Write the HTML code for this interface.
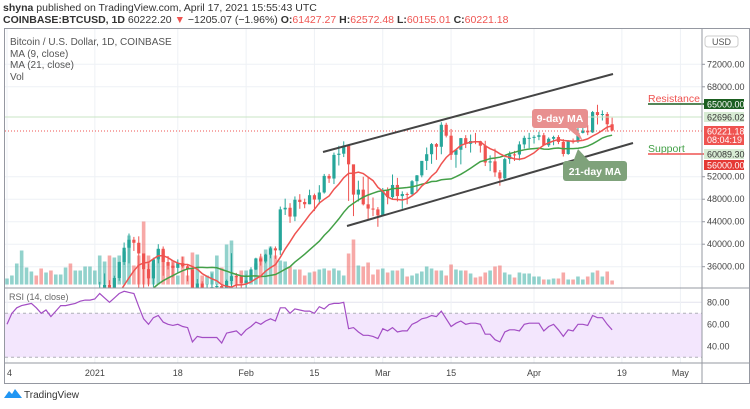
<!DOCTYPE html>
<html><head><meta charset="utf-8"><style>
body{margin:0;background:#fff;width:750px;height:409px;overflow:hidden;font-family:"Liberation Sans",sans-serif}
svg{display:block}
text{font-family:"Liberation Sans",sans-serif}
</style></head><body>
<svg id="chart" width="750" height="409" viewBox="0 0 750 409">
<defs><clipPath id="mainClip"><rect x="5" y="29" width="697" height="259"/></clipPath>
<clipPath id="rsiClip"><rect x="5" y="288" width="697" height="75"/></clipPath></defs>
<text x="3" y="11" font-size="10.5" fill="#333"><tspan font-weight="bold">shyna</tspan> published on TradingView.com, April 17, 2021 15:55:43 UTC</text>
<text x="3" y="23" font-size="10.5" fill="#333"><tspan font-weight="bold">COINBASE:BTCUSD, 1D</tspan> 60222.20 <tspan fill="#ef5350">▼</tspan> −1205.07 (−1.96%) <tspan font-weight="bold">O:</tspan><tspan fill="#ef5350">61427.27</tspan> <tspan font-weight="bold">H:</tspan><tspan fill="#ef5350">62572.48</tspan> <tspan font-weight="bold">L:</tspan><tspan fill="#ef5350">60155.01</tspan> <tspan font-weight="bold">C:</tspan><tspan fill="#ef5350">60221.18</tspan></text>
<rect x="4.5" y="28.5" width="745" height="355" fill="none" stroke="#9598a1" stroke-width="1"/>
<g id="grid"></g>
<rect x="5" y="313.3" width="697" height="44" fill="#f3e6fd"/>
<line x1="5" y1="313.3" x2="702" y2="313.3" stroke="#b0b0b8" stroke-dasharray="3,3"/>
<line x1="5" y1="357.3" x2="702" y2="357.3" stroke="#b0b0b8" stroke-dasharray="3,3"/>
<g id="vol" clip-path="url(#mainClip)"></g>
<g id="candles" clip-path="url(#mainClip)"></g>
<g id="mas" clip-path="url(#mainClip)"></g>
<g id="rsi" clip-path="url(#rsiClip)"></g>
<line x1="5" y1="117" x2="702" y2="117" stroke="#c9e4c4" stroke-width="1"/>
<line x1="5" y1="131" x2="702" y2="131" stroke="#ef5350" stroke-dasharray="1,2"/>
<line x1="323" y1="152" x2="613" y2="74" stroke="#444" stroke-width="2"/>
<line x1="347" y1="226" x2="633" y2="143" stroke="#444" stroke-width="2"/>
<g>
<path d="M566 127 L583 141 L576 127 Z" fill="#e8908f"/>
<rect x="532" y="109" width="56" height="19" rx="3" fill="#e8908f"/>
<text x="560" y="122" font-size="10.5" font-weight="bold" fill="#fff" text-anchor="middle">9-day MA</text></g>
<g>
<path d="M573 162 L578 149 L590 162 Z" fill="#7fa27b"/>
<rect x="563" y="161" width="64" height="20" rx="3" fill="#7fa27b"/>
<text x="595" y="175" font-size="10.5" font-weight="bold" fill="#fff" text-anchor="middle">21-day MA</text></g>
<text x="648" y="102" font-size="10.5" fill="#ef5350">Resistance</text>
<line x1="648" y1="104" x2="706" y2="104" stroke="#1b5e20" stroke-width="1.5"/>
<text x="648" y="152" font-size="10.5" fill="#43a047">Support</text>
<line x1="648" y1="154" x2="706" y2="154" stroke="#ef5350" stroke-width="1.5"/>
<line x1="702" y1="28" x2="702" y2="383" stroke="#9598a1"/>
<line x1="5" y1="288" x2="749" y2="288" stroke="#9598a1"/>
<line x1="5" y1="363" x2="749" y2="363" stroke="#9598a1"/>
<g id="axes"></g>
<rect x="705" y="36" width="33" height="11" rx="3" fill="#fff" stroke="#ccc"/>
<text x="721.5" y="45" font-size="9" fill="#555" text-anchor="middle">USD</text>
<g font-size="9">
<rect x="704" y="99" width="40" height="10" fill="#1b5e20"/><text x="707" y="107.5" fill="#fff">65000.00</text>
<rect x="704" y="112" width="40" height="10" fill="#d8ecd4"/><text x="707" y="120.5" fill="#333">62696.02</text>
<rect x="704" y="126" width="40" height="19" fill="#ef5350"/><text x="707" y="134.5" fill="#fff">60221.18</text><text x="707" y="143" fill="#fff">08:04:19</text>
<rect x="704" y="149" width="40" height="10" fill="#d8ecd4"/><text x="707" y="157.5" fill="#333">60089.30</text>
<rect x="704" y="160" width="40" height="10" fill="#e53935"/><text x="707" y="168.5" fill="#fff">56000.00</text></g>
<g font-size="10" fill="#555">
<text x="10" y="45">Bitcoin / U.S. Dollar, 1D, COINBASE</text>
<text x="10" y="57">MA (9, close)</text><text x="10" y="68">MA (21, close)</text><text x="10" y="80">Vol</text></g>
<text x="9" y="300" font-size="9" fill="#666">RSI (14, close)</text>
<g>
<path d="M4 398 L9 391 L12 394 L15 389 L22 398 Z" fill="#2196f3"/>
<text x="24" y="398" font-size="10" fill="#333">TradingView</text></g>
</svg>
<script>
const closes=[19270,19440,21310,22800,23130,23860,23480,22730,23820,23240,23720,24660,26440,26250,27040,27360,28840,28990,
29374,32127,32782,31971,33992,36824,39371,40797,40254,38356,35566,33922,37316,39187,36825,36178,35792,36630,36069,35548,30825,33005,32067,32289,32366,32569,30432,33466,34316,34269,33114,
33537,35510,37472,36926,38144,39266,38903,46196,46481,44918,47909,47504,47105,48717,47945,49199,52149,51679,55888,56099,57539,54207,48824,49705,47093,46339,46188,45137,
49631,48378,50538,48561,48927,48912,51206,52246,54824,56008,57805,57332,61243,59302,55907,56804,58870,57858,58346,58313,57523,54529,54738,52774,51704,55137,55974,55947,57750,58917,58918,
59095,59384,57603,58758,59057,58192,56048,58323,58245,59793,60204,59893,63503,62977,63159,61334,60222];
const firstOpen=19100;
const highs=[19400,19550,21550,23700,23250,24300,24200,24100,23990,24100,23800,24800,26800,28400,27400,27400,28990,29300,
29600,33300,34800,33600,34400,36900,40300,41900,41300,41400,38300,36600,37600,40000,39600,37900,36800,37300,37800,36400,35500,33800,33400,32900,34800,32900,32800,33700,38400,34900,34300,
34600,35900,37600,38300,38300,39600,39600,46700,48100,47300,48500,48900,48100,49700,49000,50500,52500,52500,56300,57500,58300,57500,54100,51300,52000,52000,48300,46600,
50000,50100,52400,51800,49400,49200,51400,52300,54800,57200,58000,58000,61700,61600,60500,56900,58900,59400,59500,59800,58400,58400,55800,57000,53200,55400,56500,56600,58300,59300,59800,
59400,60000,59800,59000,59300,59400,58700,58500,58800,61200,61700,61200,63700,64800,63800,63500,62500];
const lows=[19000,19050,19250,21200,22350,22750,22900,21800,22400,22700,22600,23450,24700,25900,25900,26000,27300,27900,
28800,29000,32000,28100,30300,33500,36300,36600,38800,32100,30400,32500,32400,36600,34400,35500,34100,34800,35800,33400,30100,28800,31400,30900,32300,30800,29400,30000,32000,32100,32200,
32300,33500,35400,36200,36600,37500,37400,38100,45200,43800,44100,46300,46400,47100,45900,47100,49000,50900,50700,54000,55500,47700,45000,47600,46900,44200,45000,43100,
45100,47100,48100,47600,46300,47100,48500,49300,51900,53200,54300,55000,56000,59000,55000,53600,54200,57100,56300,57800,56300,53900,53000,52000,50400,51400,54300,54800,54900,57000,57100,
57900,58500,57600,57300,57600,57800,55600,55900,57900,58000,59700,59400,59800,61300,62000,60000,60100];
const volumes=[6,9,21,34,17,13,9,16,12,14,10,10,17,21,14,14,18,18,14,29,23,29,27,29,33,49,19,29,63,29,21,35,34,19,24,9,28,9,32,30,9,9,13,29,17,40,
44,9,14,14,8,21,28,35,38,29,24,23,18,15,15,9,12,13,15,16,14,16,14,9,31,45,19,18,22,10,15,16,12,14,14,16,8,9,11,13,18,16,14,14,9,20,15,14,14,11,7,8,12,14,18,19,12,10,7,12,11,11,8,8,5,5,6,6,12,5,5,8,5,8,12,14,8,13,4];
const rsiValues=[60,70,75,77,78,79,75,70,73,67,72,77,77,78,79,81,82,82,83,88,84,80,84,88,90,89,88,76,65,60,66,68,62,60,59,60,58,57,44,49,48,48,48,48,43,52,53,54,50,55,58,62,60,63,65,63,75,75,70,74,73,72,72,70,76,74,78,79,79,80,56,57,53,50,50,49,47,56,54,57,53,54,54,60,62,65,66,68,67,72,65,58,61,63,60,61,61,60,51,51,46,44,53,55,55,54,60,61,61,61,54,58,60,55,49,55,54,60,60,59,68,66,66,60,55];
const priceTicks=[72000,68000,52000,48000,44000,40000,36000];
const rsiTicks=[80,60,40];
const dateLabels=["4","2021","18","Feb","15","Mar","15","Apr","19","May"];
const dateDayIdx=[0,18,35,49,63,77,91,108,126,138];

const NS="http://www.w3.org/2000/svg";
const xOf=i=>7+i*4.88;
const yP=p=>64.3+(72000-p)*0.005622;
const yR=r=>302.3+(80-r)*1.1;
const volBase=284.5;
function mk(tag,attrs,parent){const e=document.createElementNS(NS,tag);for(const k in attrs)e.setAttribute(k,attrs[k]);parent.appendChild(e);return e;}
const grid=document.getElementById('grid'),axes=document.getElementById('axes');
priceTicks.forEach(p=>{
  const g=mk('line',{x1:5,x2:702,y1:yP(p),y2:yP(p),stroke:'#eef1f5'},grid);
  
  
  const t=mk('text',{x:707,y:yP(p)+3,'font-size':9,fill:'#444'},axes);
  
  
  t.textContent=p.toFixed(2);
  mk('line',{x1:702,x2:705,y1:yP(p),y2:yP(p),stroke:'#9598a1'},axes);
});
rsiTicks.forEach(r=>{
  const g=mk('line',{x1:5,x2:702,y1:yR(r),y2:yR(r),stroke:'#e4e4ee'},grid);
  
  
  const t=mk('text',{x:707,y:yR(r)+3,'font-size':9,fill:'#444'},axes);
  
  
  t.textContent=r.toFixed(2);
});
dateLabels.forEach((d,k)=>{
  const x=xOf(dateDayIdx[k]);
  const g=mk('line',{x1:x,x2:x,y1:29,y2:363,stroke:'#eef1f5'},grid);
  
  
  const t=mk('text',{x:x,y:376,'font-size':9,fill:'#444','text-anchor':k==0?'start':'middle'},axes);
  
  
  t.textContent=d;
});
const vol=document.getElementById('vol'),cg=document.getElementById('candles');
closes.forEach((c,i)=>{
  const o=i==0?firstOpen:closes[i-1];
  const up=c>=o;const col=up?'#26a69a':'#ef5350';
  const x=xOf(i);
  const vb=mk('rect',{x:x-1.8,y:volBase-volumes[i],width:3.6,height:volumes[i],fill:up?'rgba(38,166,154,0.5)':'rgba(239,83,80,0.5)'},vol);
  
  
  const w=mk('line',{x1:x,x2:x,y1:yP(highs[i]),y2:yP(lows[i]),stroke:col,'stroke-width':1},cg);
  
  
  const top=yP(Math.max(o,c)),bot=yP(Math.min(o,c));
  const b=mk('rect',{x:x-1.6,y:top,width:3.2,height:Math.max(1,bot-top),fill:col},cg);
  
  
});
function maPath(n){let d='';for(let i=n-1;i<closes.length;i++){let s=0;for(let j=i-n+1;j<=i;j++)s+=closes[j];d+=(d?'L':'M')+xOf(i).toFixed(1)+' '+yP(s/n).toFixed(1);}return d;}
const mas=document.getElementById('mas');
const m21=mk('path',{d:maPath(21),fill:'none',stroke:'#43a047','stroke-width':1.5},mas);


const m9=mk('path',{d:maPath(9),fill:'none',stroke:'#ef5350','stroke-width':1.5},mas);


let rd='';rsiValues.forEach((r,i)=>{rd+=(rd?'L':'M')+xOf(i).toFixed(1)+' '+yR(r).toFixed(1);});
const rl=mk('path',{d:rd,fill:'none',stroke:'#a34dc4','stroke-width':1.2},document.getElementById('rsi'));


</script>
</body></html>
